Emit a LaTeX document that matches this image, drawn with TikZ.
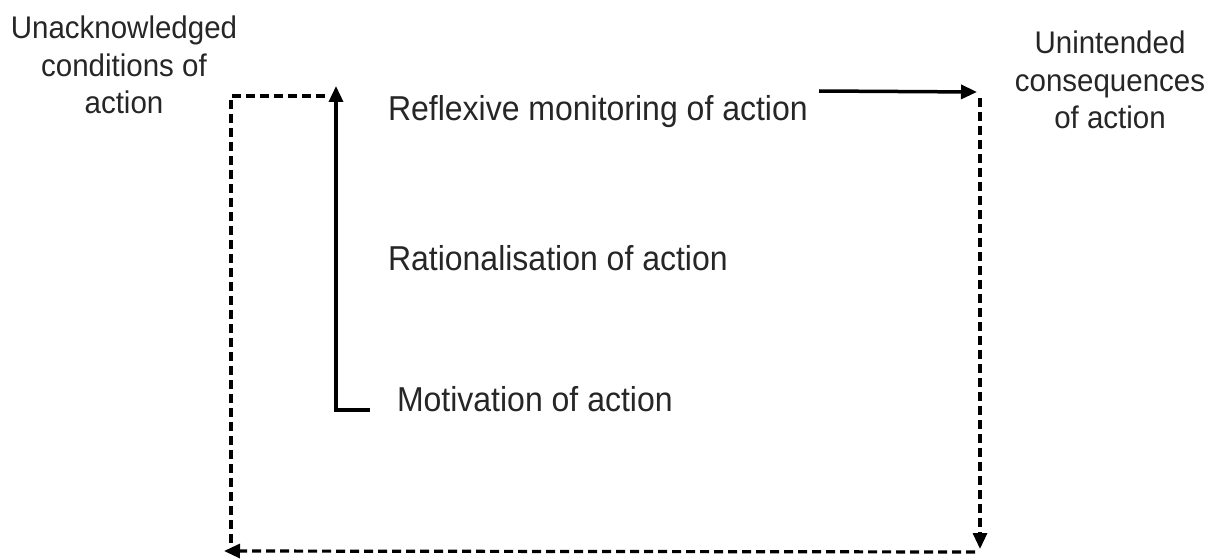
\documentclass[tikz,border=0pt]{standalone}
\usepackage{fontspec}
\setmainfont{Liberation Sans}
\usetikzlibrary{arrows.meta}
\tikzset{
  lbl/.style={inner sep=0pt, outer sep=0pt, text=black!85, yscale=1.08, font=\fontsize{32}{38}\selectfont, anchor=base west},
  cornerlbl/.style={inner sep=0pt, outer sep=0pt, text=black!85, yscale=1.06, align=center, font=\fontsize{29.5}{35.5}\selectfont, anchor=base},
  solidline/.style={line width=3.5pt, black},
  dashline/.style={line width=3.2pt, black, dash pattern=on 9pt off 5pt},
  tip/.style={-{Triangle[length=16pt,width=14pt]}},
}
\begin{document}
\begin{tikzpicture}[x=1pt,y=-1pt]
\useasboundingbox (0,0) rectangle (1221,559);
% texts (base anchor = baseline of last line)
\node[cornerlbl] (uac) at (124,114) {Unacknowledged\\conditions of\\action};
\node[cornerlbl] (uic) at (1110,129) {Unintended\\consequences\\of action};
\node[lbl] (rmon) at (388,121) {Reflexive monitoring of action};
\node[lbl] (rat) at (388,270) {Rationalisation of action};
\node[lbl] (mot) at (397,411) {Motivation of action};
% coordinates
\coordinate (motend) at (370,410);
\coordinate (motcorner) at (336,410);
\coordinate (upTip) at (336,86);
\coordinate (tlStart) at (325,96);
\coordinate (tlCorner) at (231,96);
\coordinate (blEnd) at (231,543);
\coordinate (rmStart) at (819,91);
\coordinate (rmTip) at (977,92);
\coordinate (rTop) at (980,98);
\coordinate (rBot) at (980,549);
\coordinate (bStart) at (975,552);
\coordinate (bTip) at (224,551);
% connectors
\draw[solidline, tip] (motend) -- (motcorner) -- (upTip);
\draw[dashline] (tlStart) -- (tlCorner) -- (blEnd);
\draw[solidline, tip] (rmStart) -- (rmTip);
\draw[dashline, tip] (rTop) -- (rBot);
\draw[dashline, tip] (bStart) -- (bTip);
\end{tikzpicture}
\end{document}
